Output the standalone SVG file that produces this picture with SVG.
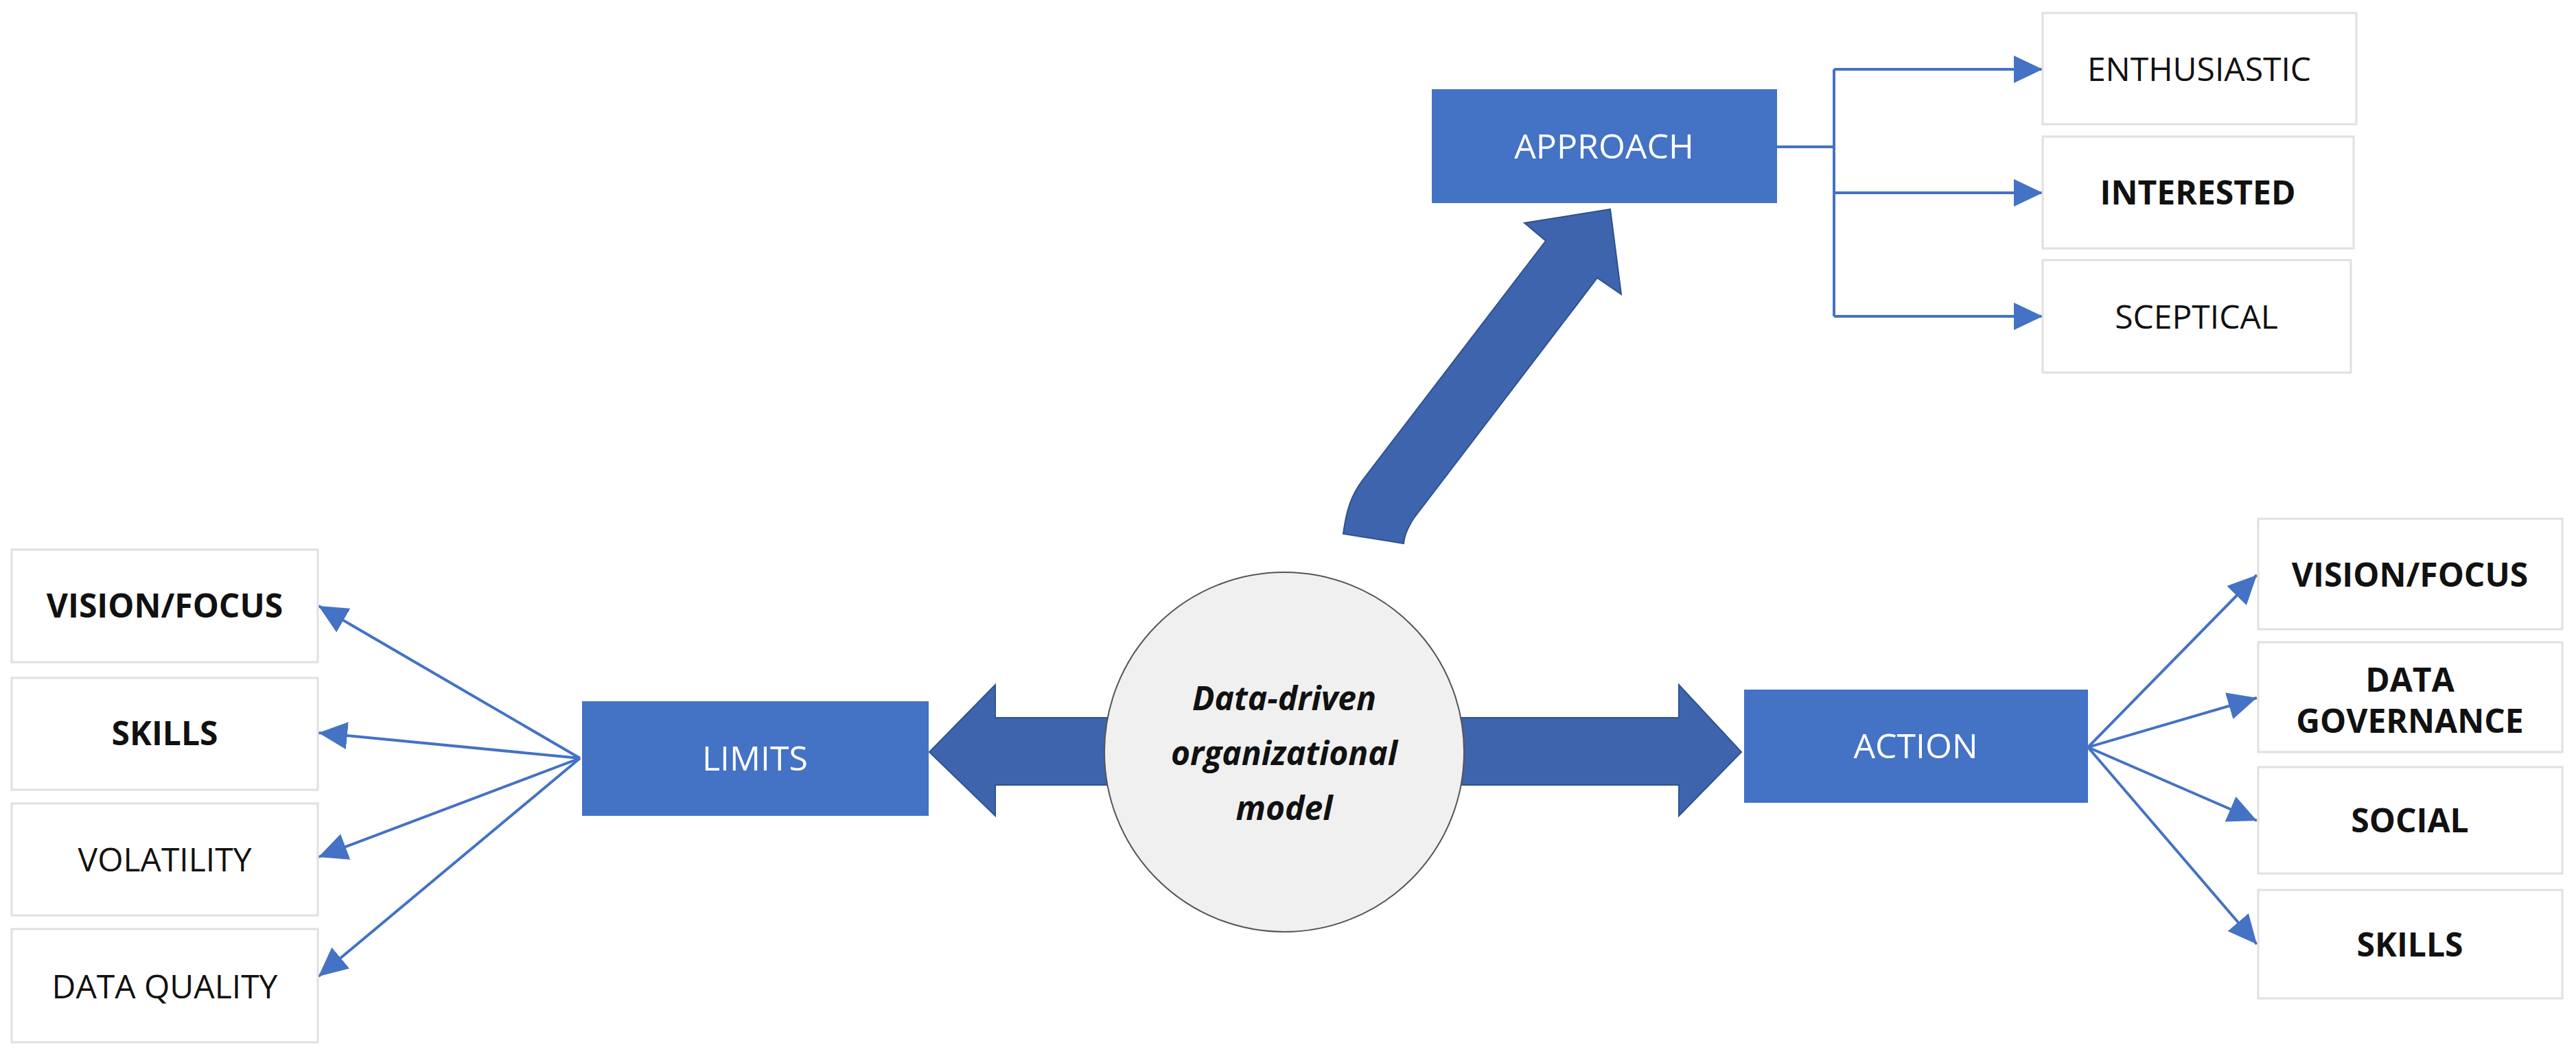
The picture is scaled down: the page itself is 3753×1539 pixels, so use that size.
<svg xmlns="http://www.w3.org/2000/svg" width="3753" height="1539" viewBox="0 0 3753 1539">
<style>
.blue{fill:#4472c4}
.wbox{fill:#fff;stroke:#e0e0e0;stroke-width:3}
.big{fill:#3d64ad;stroke:#2f528f;stroke-width:2}
.lbl{font-family:"Open Sans","Liberation Sans",sans-serif;font-size:48px;fill:#111;text-anchor:middle}
.b{font-weight:bold}
.wt{font-family:"Open Sans","Liberation Sans",sans-serif;font-size:50px;fill:#fff;text-anchor:middle}
.con{stroke:#4472c4;stroke-width:4;fill:none}
</style>
<defs>
<marker id="ah" markerWidth="10" markerHeight="10" refX="10" refY="5" orient="auto" markerUnits="userSpaceOnUse" viewBox="0 0 10 10">
<path d="M0,0 L10,5 L0,10 Z" fill="#4472c4"/>
</marker>
<marker id="ah2" markerWidth="42" markerHeight="40" refX="42" refY="20" orient="auto" markerUnits="userSpaceOnUse">
<path d="M0,0 L42,20 L0,40 Z" fill="#4472c4"/>
</marker>
</defs>
<rect width="3753" height="1539" fill="#fff"/>

<g id="big-arrows">
<path class="big" d="M1620,1046 L1450,1046 L1450,998 L1354,1096 L1450,1189 L1450,1144 L1620,1144 Z"/>
<path class="big" d="M2120,1046 L2446,1046 L2446,998 L2537,1096 L2446,1189 L2446,1144 L2120,1144 Z"/>
<path class="big" d="M1957,778 C1962,740 1970,720 1985,700 L2252,351 L2221,325 L2346,305 L2362,429 L2327,405 L2060,755 C2050,770 2046,780 2045,792 Z"/>
</g>

<g id="center">
<circle cx="1871" cy="1096" r="262" fill="#f0f0f0" stroke="#555" stroke-width="2"/>
<text class="lbl b" font-style="italic" font-size="54" x="1871" y="1035">Data-driven</text>
<text class="lbl b" font-style="italic" font-size="54" x="1871" y="1115">organizational</text>
<text class="lbl b" font-style="italic" font-size="54" x="1871" y="1195">model</text>
</g>

<g id="connectors">
<path class="con" d="M2589,214 H2672"/>
<path class="con" d="M2672,101 V461"/>
<path class="con" d="M2672,101 H2976" marker-end="url(#ah2)"/>
<path class="con" d="M2672,281 H2976" marker-end="url(#ah2)"/>
<path class="con" d="M2672,461 H2976" marker-end="url(#ah2)"/>
<path class="con" d="M845,1105 L464,883" marker-end="url(#ah2)"/>
<path class="con" d="M845,1105 L464,1068" marker-end="url(#ah2)"/>
<path class="con" d="M845,1105 L464,1249" marker-end="url(#ah2)"/>
<path class="con" d="M845,1105 L464,1423" marker-end="url(#ah2)"/>
<path class="con" d="M3042,1089 L3288,838" marker-end="url(#ah2)"/>
<path class="con" d="M3042,1089 L3288,1017" marker-end="url(#ah2)"/>
<path class="con" d="M3042,1089 L3288,1196" marker-end="url(#ah2)"/>
<path class="con" d="M3042,1089 L3288,1376" marker-end="url(#ah2)"/>
</g>

<g id="approach"><rect class="blue" x="2086" y="130" width="503" height="166"/><text class="wt" x="2337" y="231">APPROACH</text></g>
<g id="limits"><rect class="blue" x="848" y="1022" width="505" height="167"/><text class="wt" x="1100" y="1123">LIMITS</text></g>
<g id="action"><rect class="blue" x="2541" y="1005" width="501" height="165"/><text class="wt" x="2791" y="1105">ACTION</text></g>

<g id="enthusiastic"><rect class="wbox" x="2976" y="19" width="457" height="162"/><text class="lbl" x="3204" y="118">ENTHUSIASTIC</text></g>
<g id="interested"><rect class="wbox" x="2976" y="199" width="453" height="163"/><text class="lbl b" x="3202" y="298">INTERESTED</text></g>
<g id="sceptical"><rect class="wbox" x="2976" y="379" width="449" height="164"/><text class="lbl" x="3200" y="479">SCEPTICAL</text></g>

<g id="l-vision"><rect class="wbox" x="17" y="801" width="446" height="164"/><text class="lbl b" x="240" y="900">VISION/FOCUS</text></g>
<g id="l-skills"><rect class="wbox" x="17" y="988" width="446" height="163"/><text class="lbl b" x="240" y="1086">SKILLS</text></g>
<g id="l-volatility"><rect class="wbox" x="17" y="1171" width="446" height="163"/><text class="lbl" x="240" y="1270">VOLATILITY</text></g>
<g id="l-dataquality"><rect class="wbox" x="17" y="1354" width="446" height="165"/><text class="lbl" x="240" y="1455">DATA QUALITY</text></g>

<g id="r-vision"><rect class="wbox" x="3290" y="756" width="443" height="161"/><text class="lbl b" x="3511" y="855">VISION/FOCUS</text></g>
<g id="r-datagov"><rect class="wbox" x="3290" y="936" width="443" height="160"/><text class="lbl b" x="3511" y="1008">DATA</text><text class="lbl b" x="3511" y="1068">GOVERNANCE</text></g>
<g id="r-social"><rect class="wbox" x="3290" y="1118" width="443" height="155"/><text class="lbl b" x="3511" y="1213">SOCIAL</text></g>
<g id="r-skills"><rect class="wbox" x="3290" y="1297" width="443" height="158"/><text class="lbl b" x="3511" y="1394">SKILLS</text></g>
</svg>
